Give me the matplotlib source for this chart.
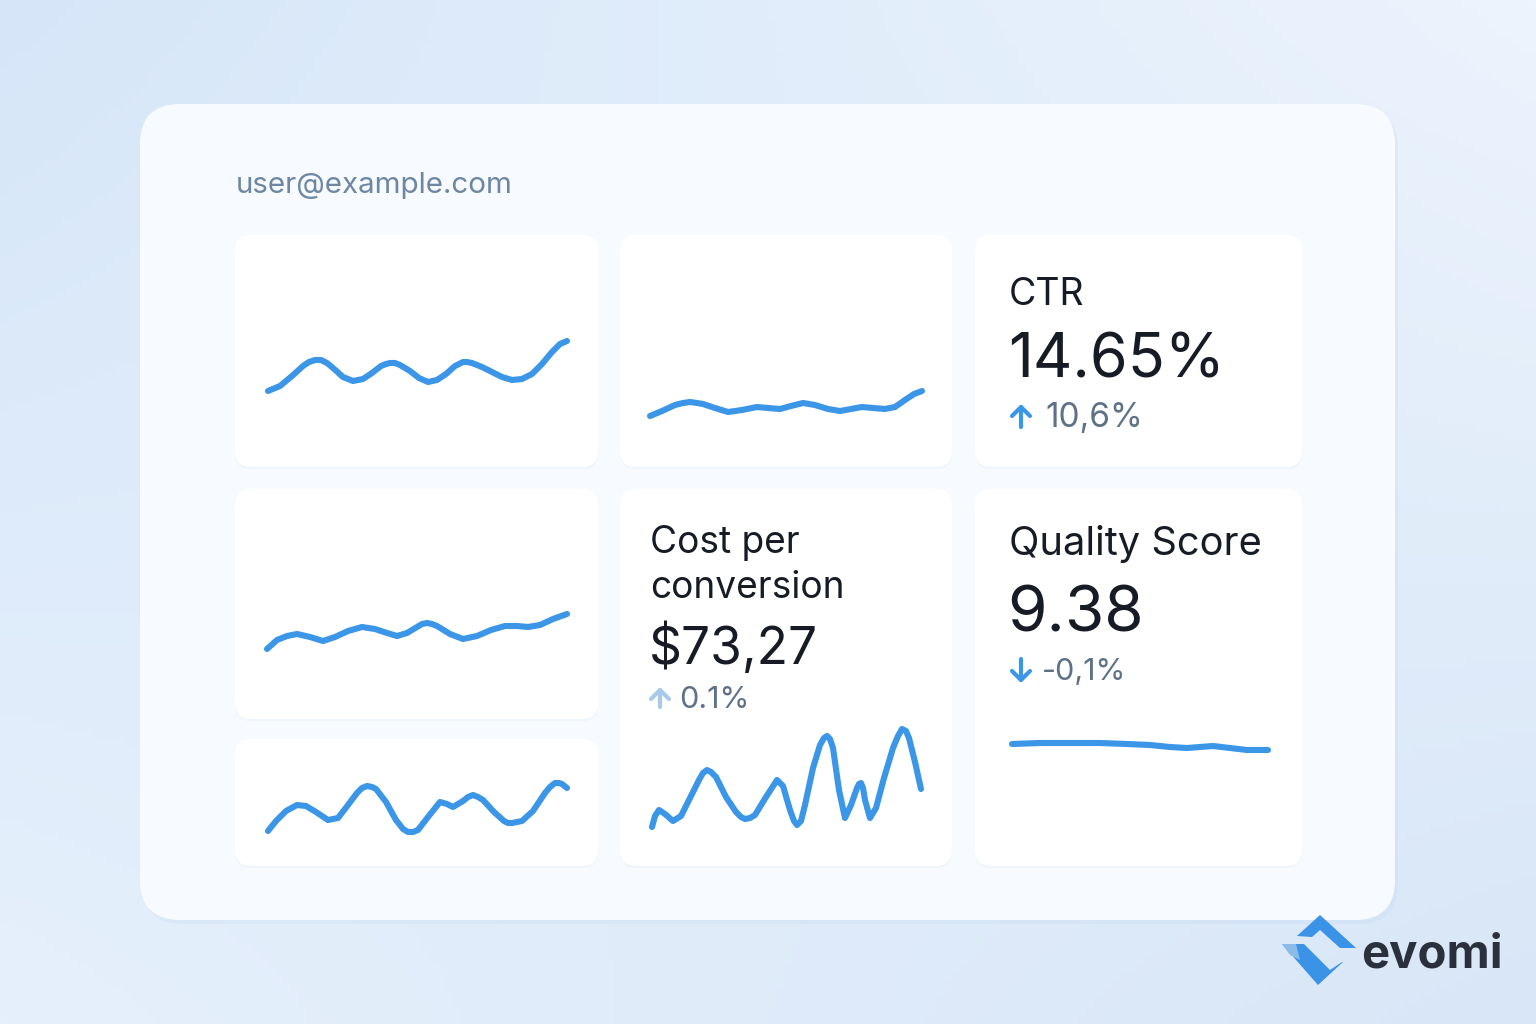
import numpy as np
import matplotlib.pyplot as plt
from matplotlib.patches import FancyBboxPatch, Polygon

plt.rcParams["font.family"] = ["Inter", "DejaVu Sans"]

W, H = 1536, 1024

# sparkline series: x = offset from tile left, y = height above tile bottom (px units of the tile)
a_x = [33, 45, 57, 68, 74, 80, 86, 92, 98, 108, 118, 128, 137, 146, 151, 155, 160, 165, 175, 184, 193,
       202, 211, 220, 224, 228, 232, 237, 247, 257, 267, 277, 287, 297, 307, 317, 325, 332]
a_y = [76, 81, 91, 101, 105, 107, 107, 104, 99, 90, 86, 88, 94, 101, 103, 104, 104, 102, 96, 89, 85,
       87, 93, 101, 103, 105, 105, 104, 100, 95, 90, 87, 88, 93, 103, 115, 123, 126]

b_x = [30, 42, 55, 63, 70, 77, 83, 95, 108, 122, 137, 148, 160, 171, 183, 195, 208, 220, 231, 242, 253,
       265, 275, 285, 294, 302]
b_y = [51, 56, 62, 64, 65, 64, 63, 59, 55, 57, 60, 59, 58, 61, 64, 62, 58, 56, 58, 60, 59, 58, 60, 67,
       73, 76]

d_x = [32, 42, 52, 62, 75, 88, 100, 113, 127, 140, 152, 162, 172, 182, 187, 192, 197, 202, 215, 228,
       242, 256, 270, 282, 293, 305, 318, 332]
d_y = [70, 79, 83, 85, 82, 78, 82, 88, 92, 90, 86, 83, 86, 92, 95, 96, 95, 93, 85, 80, 83, 89, 93, 93,
       92, 94, 100, 105]

e_x = [33, 41, 51, 62, 71, 81, 93, 103, 113, 122, 127, 132, 137, 141, 151, 161, 168, 173, 178, 183,
       193, 205, 212, 218, 228, 233, 238, 243, 248, 259, 269, 273, 277, 282, 287, 298, 310, 315, 320,
       324, 327, 332]
e_y = [35, 45, 55, 61, 60, 54, 46, 48, 61, 73, 78, 80, 79, 77, 64, 46, 37, 34, 34, 36, 49, 64, 62, 59,
       65, 69, 71, 69, 66, 54, 45, 43, 43, 44, 45, 55, 73, 79, 83, 83, 82, 78]

f_x = [32, 35, 39, 45, 53, 61, 70, 79, 83, 87, 91, 96, 106, 116, 121, 125, 130, 135, 146, 157, 163,
       170, 174, 177, 181, 185, 193, 200, 204, 207, 210, 213, 219, 225, 231, 237, 239, 241, 243, 245,
       250, 256, 264, 273, 278, 282, 286, 289, 295, 301]
f_y = [39, 50, 56, 52, 45, 50, 68, 86, 93, 96, 94, 89, 69, 54, 49, 47, 48, 51, 69, 86, 80, 56, 45, 41,
       45, 61, 98, 121, 128, 130, 127, 118, 76, 48, 61, 78, 82, 83, 78, 66, 48, 58, 88, 118, 130, 137,
       135, 128, 104, 77]

g_x = [37, 65, 95, 125, 152, 175, 195, 212, 225, 238, 255, 272, 293]
g_y = [122, 123, 123, 123, 122, 121, 119, 118, 119, 120, 118, 116, 116]

# tiles (left, top, width, height) in px
tiles = {
    "a": (235, 235, 363, 232),
    "b": (620, 235, 332, 232),
    "c": (975, 235, 327, 232),
    "d": (235, 489, 363, 230),
    "e": (235, 739, 363, 127),
    "f": (620, 489, 332, 377),
    "g": (975, 489, 327, 377),
}
series = {"a": (a_x, a_y), "b": (b_x, b_y), "d": (d_x, d_y),
          "e": (e_x, e_y), "f": (f_x, f_y), "g": (g_x, g_y)}

LINE = "#3b96e8"
DARK = "#161b26"
GREY = "#5d7287"

fig = plt.figure(figsize=(W / 100, H / 100), dpi=100)
bg = fig.add_axes([0, 0, 1, 1])
bg.set_xlim(0, W)
bg.set_ylim(H, 0)
bg.axis("off")

# soft background gradient
c_tl = np.array([0xd6, 0xe6, 0xf8]) / 255
c_tr = np.array([0xec, 0xf4, 0xfd]) / 255
c_bl = np.array([0xe6, 0xf0, 0xfc]) / 255
c_br = np.array([0xd8, 0xe6, 0xf7]) / 255
u = np.linspace(0, 1, 200)[None, :, None]
v = np.linspace(0, 1, 140)[:, None, None]
grad = (1 - u) * (1 - v) * c_tl + u * (1 - v) * c_tr + (1 - u) * v * c_bl + u * v * c_br
bg.imshow(grad, extent=[0, W, H, 0], aspect="auto", zorder=0)

# main card
bg.add_patch(FancyBboxPatch((143, 108), 1255, 816, boxstyle="round,pad=0,rounding_size=40",
                            fc="#c9dcf2", ec="none", alpha=0.35, zorder=1))
bg.add_patch(FancyBboxPatch((140, 104), 1255, 816, boxstyle="round,pad=0,rounding_size=40",
                            fc="#f7fbff", ec="none", zorder=2))

for k, (x0, y0, w, h) in tiles.items():
    bg.add_patch(FancyBboxPatch((x0, y0 + 2), w, h, boxstyle="round,pad=0,rounding_size=16",
                                fc="#e9f1fb", ec="none", alpha=0.6, zorder=3))
    bg.add_patch(FancyBboxPatch((x0, y0), w, h, boxstyle="round,pad=0,rounding_size=16",
                                fc="white", ec="none", zorder=4))

bg.text(236, 193, "user@example.com", fontsize=21.3, color="#6d87a2", va="baseline", zorder=5)


def arrow(xc, ytop, ybot, up, color):
    # small open-headed arrow drawn as strokes
    tip, tail = (ytop, ybot) if up else (ybot, ytop)
    d = 9 if up else -9
    bg.plot([xc, xc], [tip, tail], color=color, lw=3, solid_capstyle="round", zorder=6)
    bg.plot([xc - 9, xc, xc + 9], [tip + d, tip, tip + d], color=color, lw=3,
            solid_capstyle="round", solid_joinstyle="round", zorder=6)


# CTR tile
bg.text(1009, 305, "CTR", fontsize=27, color=DARK, va="baseline", zorder=5)
bg.text(1008, 377, "14.65%", fontsize=44, color=DARK, va="baseline", zorder=5)
arrow(1021, 407, 427, True, LINE)
bg.text(1045, 427, "10,6%", fontsize=24, color=GREY, va="baseline", zorder=5)

# cost per conversion tile
bg.text(650, 553, "Cost per", fontsize=26.7, color=DARK, va="baseline", zorder=5)
bg.text(650, 598, "conversion", fontsize=26.7, color=DARK, va="baseline", zorder=5)
bg.text(649, 664, "$73,27", fontsize=37, color=DARK, va="baseline", zorder=5)
arrow(660, 690, 707, True, "#a9c9ea")
bg.text(679, 708, "0.1%", fontsize=22, color=GREY, va="baseline", zorder=5)

# quality score tile
bg.text(1009, 555, "Quality Score", fontsize=28.7, color=DARK, va="baseline", zorder=5)
bg.text(1007, 632, "9.38", fontsize=46, color=DARK, va="baseline", zorder=5)
arrow(1021, 659, 680, False, LINE)
bg.text(1042, 680, "-0,1%", fontsize=22, color=GREY, va="baseline", zorder=5)

# sparklines
for k, (xs, ys) in series.items():
    x0, y0, w, h = tiles[k]
    ax = fig.add_axes([x0 / W, 1 - (y0 + h) / H, w / W, h / H])
    ax.set_xlim(0, w)
    ax.set_ylim(0, h)
    ax.axis("off")
    ax.patch.set_alpha(0)
    ax.plot(xs, ys, color=LINE, lw=4.4, solid_capstyle="round", solid_joinstyle="round")

# logo
bg.add_patch(Polygon([(1297, 936), (1320, 915), (1356, 948), (1340, 948), (1320, 930), (1312, 937)],
                     closed=True, fc="#3a93e6", ec="none", zorder=5))
bg.add_patch(Polygon([(1282, 944), (1304, 944), (1330, 970), (1342, 962), (1343, 962), (1318, 985)],
                     closed=True, fc="#3a93e6", ec="none", zorder=5))
bg.add_patch(Polygon([(1282, 944), (1296, 944), (1300, 960), (1290, 955)],
                     closed=True, fc="#8dbbe8", ec="none", zorder=5))
bg.text(1361, 968, "evomi", fontsize=34, color="#2a313d", fontweight="bold",
        va="baseline", zorder=5)

fig.savefig("out.png", dpi=100)
